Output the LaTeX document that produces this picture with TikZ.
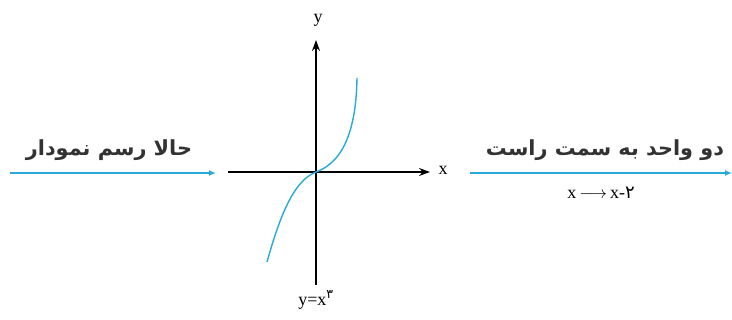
\documentclass[tikz,border=0pt]{standalone}
\usepackage{fontspec}
\setmainfont{Liberation Serif}
\newfontfamily\arabicfont[Script=Arabic]{DejaVu Sans}
\TeXXeTstate=1
\usetikzlibrary{arrows.meta}
\definecolor{curvecyan}{RGB}{40,170,215}
\definecolor{textgrey}{RGB}{50,50,50}
\begin{document}
\begin{tikzpicture}[x=1pt,y=-1pt,
  axisline/.style={line width=1.4pt,-{Stealth[length=11pt,width=8pt]}},
  cyanarrow/.style={curvecyan,line width=1.6pt,-{Latex[length=7pt,width=6pt]}},
  curvestyle/.style={curvecyan,line width=1.4pt},
  artext/.style={font=\arabicfont\bfseries\fontsize{20.8}{24}\selectfont,text=textgrey,inner sep=0pt},
  latext/.style={font=\fontsize{18}{20}\selectfont,inner sep=0pt}]
\useasboundingbox (0,0) rectangle (732,320);
% axes
\coordinate (xl) at (228,172);
\coordinate (xr) at (430,172);
\coordinate (yb) at (316,285);
\coordinate (yt) at (316,40);
\coordinate (o) at (316,172);
\draw[axisline] (xl) -- (xr);
\draw[axisline] (yb) -- (yt);
\node[latext] (xlab) at (443,170) {x};
\node[latext] (ylab) at (318,20) {y};
% curve
\coordinate (cb) at (267,262);
\coordinate (ct) at (357,78);
\draw[curvestyle] (cb) .. controls (282,208) and (296,180) .. (o)
  .. controls (338,164) and (356,140) .. (ct);
\node[latext] (eq) at (316,300) {y=x\textsuperscript{\arabicfont ۳}};
% left arrow
\coordinate (la) at (10,173);
\coordinate (lb) at (216,173);
\draw[cyanarrow] (la) -- (lb);
\node[artext] (ltext) at (109,150) {\beginR حالا رسم نمودار\endR};
% right arrow
\coordinate (ra) at (470,173);
\coordinate (rb) at (732,173);
\draw[cyanarrow] (ra) -- (rb);
\node[artext] (rtext) at (605,150) {\beginR دو واحد به سمت راست\endR};
\node[latext] (rsub) at (601,193) {x\,$\longrightarrow$\,x-{\arabicfont ۲}};
\end{tikzpicture}
\end{document}
